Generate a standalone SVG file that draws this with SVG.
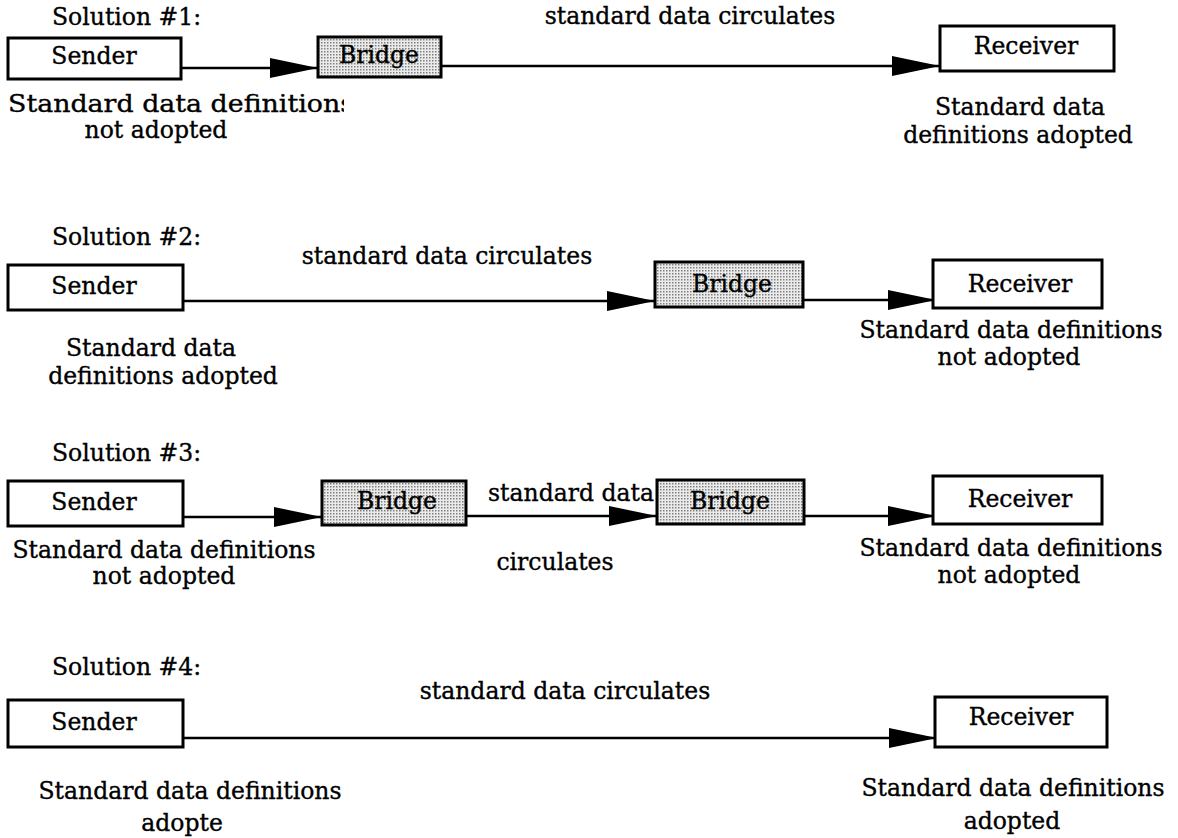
<svg xmlns="http://www.w3.org/2000/svg" width="1178" height="838" viewBox="0 0 1178 838">
  <style>
    text { font-family: "DejaVu Serif", "Liberation Serif", serif; font-size: 23.5px; fill: #000; stroke: #000; stroke-width: 0.35; }
    .c { text-anchor: middle; }
    .box { fill: #fff; stroke: #000; stroke-width: 3; }
    .bridge { fill: url(#stipple); stroke: #000; stroke-width: 3; }
    .flow { fill: none; stroke: #000; stroke-width: 2.5; marker-end: url(#head); }
  </style>
  <defs>
    <pattern id="stipple" width="3" height="3" patternUnits="userSpaceOnUse">
      <rect width="3" height="3" fill="#ebebeb"/>
      <rect width="1.5" height="1.5" fill="#808080"/>
    </pattern>
    <marker id="head" markerUnits="userSpaceOnUse" markerWidth="50" markerHeight="22" refX="48" refY="11" orient="auto">
      <path d="M0,1 L48,11 L0,21 Z" fill="#000"/>
    </marker>
    <clipPath id="cut1">
      <rect x="0" y="80" width="344" height="50"/>
    </clipPath>
  </defs>

  <rect width="1178" height="838" fill="#fff"/>

  <!-- section headings -->
  <g id="headings">
    <text x="52" y="25">Solution #1:</text>
    <text x="52" y="245">Solution #2:</text>
    <text x="52" y="461">Solution #3:</text>
    <text x="52" y="675">Solution #4:</text>
  </g>

  <!-- connectors -->
  <g id="connectors">
    <path class="flow" d="M181,68 H318"/>
    <path class="flow" d="M441,66 H940"/>
    <path class="flow" d="M183,301 H655"/>
    <path class="flow" d="M803,300 H936"/>
    <path class="flow" d="M183,517 H322"/>
    <path class="flow" d="M466,516 H657"/>
    <path class="flow" d="M804,516 H936"/>
    <path class="flow" d="M183,738 H937"/>
  </g>

  <!-- connector labels -->
  <g id="flow-labels">
    <text class="c" x="690" y="24">standard data circulates</text>
    <text class="c" x="447" y="264">standard data circulates</text>
    <text class="c" x="571" y="501">standard data</text>
    <text class="c" x="555" y="570">circulates</text>
    <text class="c" x="565" y="699">standard data circulates</text>
  </g>

  <!-- Solution 1 -->
  <g id="s1-sender">
    <rect class="box" x="8" y="38" width="173" height="41"/>
    <text class="c" x="94" y="64">Sender</text>
    <text x="8" y="112" textLength="346" lengthAdjust="spacingAndGlyphs" clip-path="url(#cut1)">Standard data definitions</text>
    <text class="c" x="156" y="138">not adopted</text>
  </g>
  <g id="s1-bridge">
    <rect class="bridge" x="318" y="37" width="123" height="40"/>
    <text class="c" x="379" y="63">Bridge</text>
  </g>
  <g id="s1-receiver">
    <rect class="box" x="940" y="26" width="174" height="45"/>
    <text class="c" x="1026" y="54">Receiver</text>
    <text class="c" x="1020" y="115">Standard data</text>
    <text class="c" x="1018" y="143">definitions adopted</text>
  </g>

  <!-- Solution 2 -->
  <g id="s2-sender">
    <rect class="box" x="8" y="265" width="175" height="45"/>
    <text class="c" x="94" y="294">Sender</text>
    <text class="c" x="151" y="356">Standard data</text>
    <text class="c" x="163" y="384">definitions adopted</text>
  </g>
  <g id="s2-bridge">
    <rect class="bridge" x="655" y="262" width="148" height="45"/>
    <text class="c" x="732" y="292">Bridge</text>
  </g>
  <g id="s2-receiver">
    <rect class="box" x="933" y="260" width="169" height="48"/>
    <text class="c" x="1020" y="292">Receiver</text>
    <text class="c" x="1011" y="338">Standard data definitions</text>
    <text class="c" x="1009" y="365">not adopted</text>
  </g>

  <!-- Solution 3 -->
  <g id="s3-sender">
    <rect class="box" x="8" y="481" width="175" height="45"/>
    <text class="c" x="94" y="510">Sender</text>
    <text class="c" x="164" y="558">Standard data definitions</text>
    <text class="c" x="164" y="584">not adopted</text>
  </g>
  <g id="s3-bridge-a">
    <rect class="bridge" x="322" y="481" width="144" height="44"/>
    <text class="c" x="397" y="509">Bridge</text>
  </g>
  <g id="s3-bridge-b">
    <rect class="bridge" x="657" y="480" width="147" height="44"/>
    <text class="c" x="730" y="509">Bridge</text>
  </g>
  <g id="s3-receiver">
    <rect class="box" x="933" y="476" width="169" height="48"/>
    <text class="c" x="1020" y="507">Receiver</text>
    <text class="c" x="1011" y="556">Standard data definitions</text>
    <text class="c" x="1009" y="583">not adopted</text>
  </g>

  <!-- Solution 4 -->
  <g id="s4-sender">
    <rect class="box" x="8" y="700" width="175" height="47"/>
    <text class="c" x="94" y="730">Sender</text>
    <text class="c" x="190" y="799">Standard data definitions</text>
    <text class="c" x="182" y="831">adopte</text>
  </g>
  <g id="s4-receiver">
    <rect class="box" x="935" y="697" width="172" height="50"/>
    <text class="c" x="1021" y="725">Receiver</text>
    <text class="c" x="1013" y="796">Standard data definitions</text>
    <text class="c" x="1012" y="829">adopted</text>
  </g>
</svg>
